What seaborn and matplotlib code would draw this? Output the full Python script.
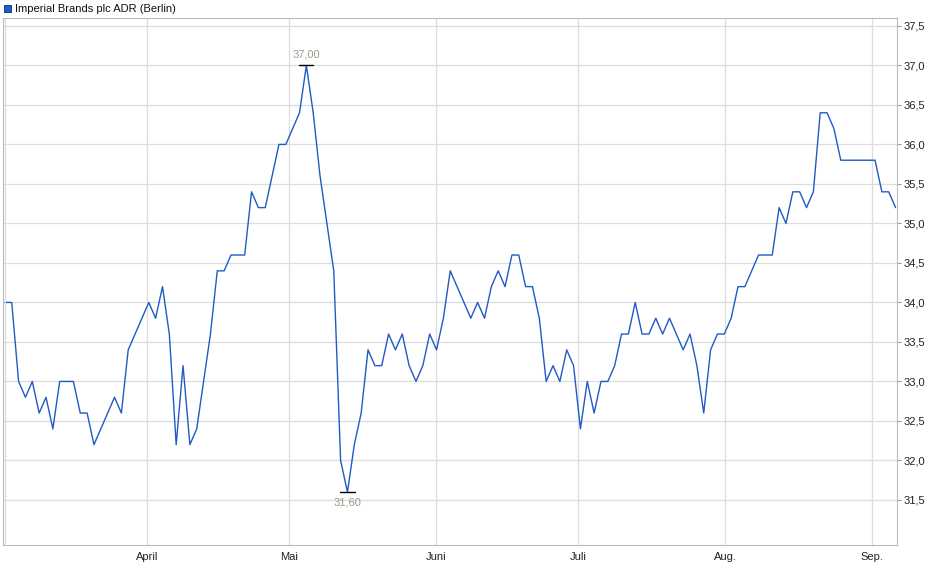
import matplotlib
matplotlib.use("Agg")
import matplotlib.pyplot as plt
import seaborn as sns
import pandas as pd

values = [34.0, 34.0, 33.0, 32.8, 33.0, 32.6, 32.8, 32.4, 33.0, 33.0, 33.0, 32.6, 32.6, 32.2, 32.4,
          32.6, 32.8, 32.6, 33.4, 33.6, 33.8, 34.0, 33.8, 34.2, 33.6, 32.2, 33.2, 32.2, 32.4, 33.0,
          33.6, 34.4, 34.4, 34.6, 34.6, 34.6, 35.4, 35.2, 35.2, 35.6, 36.0, 36.0, 36.2, 36.4, 37.0,
          36.4, 35.6, 35.0, 34.4, 32.0, 31.6, 32.2, 32.6, 33.4, 33.2, 33.2, 33.6, 33.4, 33.6, 33.2,
          33.0, 33.2, 33.6, 33.4, 33.8, 34.4, 34.2, 34.0, 33.8, 34.0, 33.8, 34.2, 34.4, 34.2, 34.6,
          34.6, 34.2, 34.2, 33.8, 33.0, 33.2, 33.0, 33.4, 33.2, 32.4, 33.0, 32.6, 33.0, 33.0, 33.2,
          33.6, 33.6, 34.0, 33.6, 33.6, 33.8, 33.6, 33.8, 33.6, 33.4, 33.6, 33.2, 32.6, 33.4, 33.6,
          33.6, 33.8, 34.2, 34.2, 34.4, 34.6, 34.6, 34.6, 35.2, 35.0, 35.4, 35.4, 35.2, 35.4, 36.4,
          36.4, 36.2, 35.8, 35.8, 35.8, 35.8, 35.8, 35.8, 35.4, 35.4, 35.2]
start_date, end_date = "2025-03-02", "2025-09-06"
month_ticks = ["2025-04-01", "2025-05-01", "2025-06-01", "2025-07-01", "2025-08-01", "2025-09-01"]
month_labels = ["April", "Mai", "Juni", "Juli", "Aug.", "Sep."]
y_ticks = [31.5, 32.0, 32.5, 33.0, 33.5, 34.0, 34.5, 35.0, 35.5, 36.0, 36.5, 37.0, 37.5]
title = "Imperial Brands plc ADR (Berlin)"

dates = pd.date_range(start_date, end_date, periods=len(values))
df = pd.DataFrame({"date": dates, "price": values})

sns.set_style("white")
plt.rcParams['font.family'] = ['Liberation Sans', 'DejaVu Sans']
fig = plt.figure(figsize=(9.4, 5.79), dpi=100)
ax = fig.add_axes([3/940, 1-545/579, 894/940, 527/579])
sns.lineplot(data=df, x="date", y="price", ax=ax, color="#1f5bc4", linewidth=1.0)

ax.set_ylim(30.93, 37.6)
ax.set_xlim(dates[0] - pd.Timedelta(days=0.4), dates[-1] + pd.Timedelta(days=0.3))
ax.set_yticks(y_ticks)
ax.set_yticklabels([f"{v:.1f}".replace(".", ",") for v in y_ticks], fontsize=8, color="#222222")
ax.yaxis.tick_right()
ax.set_xticks(pd.to_datetime(month_ticks))
ax.set_xticklabels(month_labels, fontsize=8, color="#222222")
ax.tick_params(length=3, color="#999999", pad=2)
ax.grid(True, color="#dddddd", linewidth=0.9)
ax.set_xlabel(""); ax.set_ylabel("")
for s in ax.spines.values():
    s.set_color("#bbbbbb"); s.set_linewidth(0.8)
ax.axvline(dates[0], color="#dddddd", lw=0.9)

imax = values.index(max(values)); imin = values.index(min(values))
for i, off, va in [(imax, 4, "bottom"), (imin, -4, "top")]:
    d = dates[i]
    ax.plot([d - pd.Timedelta(days=1.5), d + pd.Timedelta(days=1.5)], [values[i]] * 2, color="black", lw=1)
    ax.annotate(f"{values[i]:.2f}".replace(".", ","), (d, values[i]), xytext=(0, off),
                textcoords="offset points", ha="center", va=va, fontsize=8, color="#a09a8a")

fig.patches.append(plt.Rectangle((4/940, 1-12/579), 7/940, 7/579, transform=fig.transFigure,
                                 facecolor="#1f5bc4", edgecolor="#0a2a6a", lw=0.6))
fig.text(15/940, 1-8.5/579, title, fontsize=8, va="center", ha="left", color="#111111")
fig.savefig("out.png", dpi=100)
